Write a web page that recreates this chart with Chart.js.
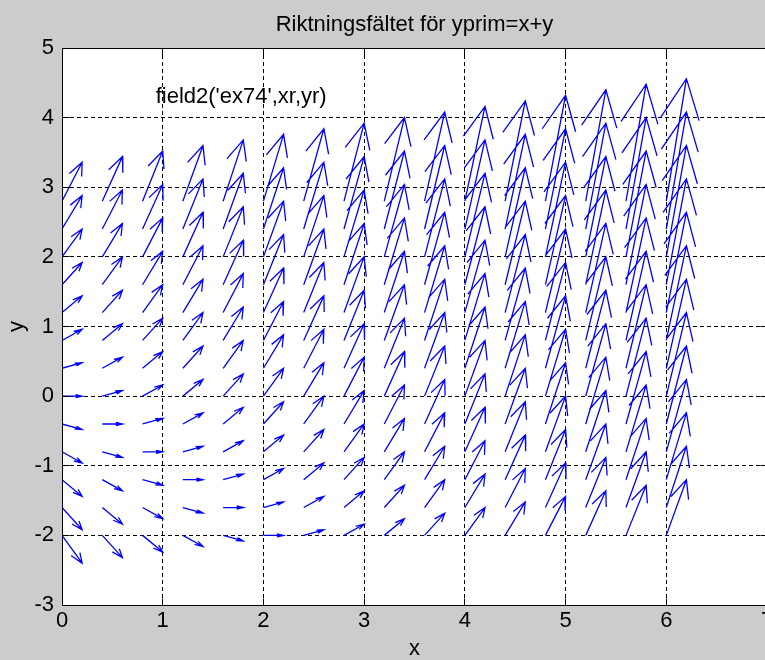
<!DOCTYPE html>
<html>
<head>
<meta charset="utf-8">
<title>Riktningsfältet för yprim=x+y</title>
<script src="https://cdn.jsdelivr.net/npm/chart.js@4.4.1/dist/chart.umd.min.js"></script>
<style>
  html, body { margin: 0; padding: 0; overflow: hidden; background: #cccccc; }
  canvas { display: block; }
</style>
</head>
<body>
<canvas id="fieldChart" width="829" height="660" style="width:829px;height:660px"></canvas>
<script>
// grid points where the arrows start
const xGrid = [0, 0.4, 0.8, 1.2, 1.6, 2, 2.4, 2.8, 3.2, 3.6, 4, 4.4, 4.8, 5.2, 5.6, 6];
const yGrid = [-2, -1.6, -1.2, -0.8, -0.4, 0, 0.4, 0.8, 1.2, 1.6, 2, 2.4, 2.8];

// slope y' at each grid point, one row per yGrid value
const slopes = [
  [-2, -1.6, -1.2, -0.8, -0.4, 0, 0.4, 0.8, 1.2, 1.6, 2, 2.4, 2.8, 3.2, 3.6, 4],
  [-1.6, -1.2, -0.8, -0.4, 0, 0.4, 0.8, 1.2, 1.6, 2, 2.4, 2.8, 3.2, 3.6, 4, 4.4],
  [-1.2, -0.8, -0.4, 0, 0.4, 0.8, 1.2, 1.6, 2, 2.4, 2.8, 3.2, 3.6, 4, 4.4, 4.8],
  [-0.8, -0.4, 0, 0.4, 0.8, 1.2, 1.6, 2, 2.4, 2.8, 3.2, 3.6, 4, 4.4, 4.8, 5.2],
  [-0.4, 0, 0.4, 0.8, 1.2, 1.6, 2, 2.4, 2.8, 3.2, 3.6, 4, 4.4, 4.8, 5.2, 5.6],
  [0, 0.4, 0.8, 1.2, 1.6, 2, 2.4, 2.8, 3.2, 3.6, 4, 4.4, 4.8, 5.2, 5.6, 6],
  [0.4, 0.8, 1.2, 1.6, 2, 2.4, 2.8, 3.2, 3.6, 4, 4.4, 4.8, 5.2, 5.6, 6, 6.4],
  [0.8, 1.2, 1.6, 2, 2.4, 2.8, 3.2, 3.6, 4, 4.4, 4.8, 5.2, 5.6, 6, 6.4, 6.8],
  [1.2, 1.6, 2, 2.4, 2.8, 3.2, 3.6, 4, 4.4, 4.8, 5.2, 5.6, 6, 6.4, 6.8, 7.2],
  [1.6, 2, 2.4, 2.8, 3.2, 3.6, 4, 4.4, 4.8, 5.2, 5.6, 6, 6.4, 6.8, 7.2, 7.6],
  [2, 2.4, 2.8, 3.2, 3.6, 4, 4.4, 4.8, 5.2, 5.6, 6, 6.4, 6.8, 7.2, 7.6, 8],
  [2.4, 2.8, 3.2, 3.6, 4, 4.4, 4.8, 5.2, 5.6, 6, 6.4, 6.8, 7.2, 7.6, 8, 8.4],
  [2.8, 3.2, 3.6, 4, 4.4, 4.8, 5.2, 5.6, 6, 6.4, 6.8, 7.2, 7.6, 8, 8.4, 8.8],
];

const xTicks = [0, 1, 2, 3, 4, 5, 6, 7];
const yTicks = [-3, -2, -1, 0, 1, 2, 3, 4, 5];

const titleText = 'Riktningsfältet för yprim=x+y';
const noteText = "field2('ex74',xr,yr)";
const noteAt = [0.93, 4.3];

// arrow drawing (matlab quiver style head)
const arrowRun = 0.2;
const headLen = 0.33;
const headWidth = 0.33;
const fontFamily = "'Liberation Sans', Arial, sans-serif";
const fontSize = 22;

function buildArrows() {
  const pts = [];
  yGrid.forEach((y0, i) => {
    xGrid.forEach((x0, j) => {
      const u = arrowRun;
      const v = arrowRun * slopes[i][j];
      const tx = x0 + u;
      const ty = y0 + v;
      pts.push(
        { x: x0, y: y0 },
        { x: tx, y: ty },
        { x: tx, y: null },
        { x: tx - headLen * (u + headWidth * v), y: ty - headLen * (v - headWidth * u) },
        { x: tx, y: ty },
        { x: tx - headLen * (u - headWidth * v), y: ty - headLen * (v + headWidth * u) },
        { x: tx, y: null }
      );
    });
  });
  return pts;
}

const align = (p) => Math.round(p - 0.5) + 0.5;

const axesBox = {
  id: 'axesBox',
  beforeDraw(chart) {
    const { ctx, chartArea: a } = chart;
    ctx.save();
    ctx.fillStyle = '#ffffff';
    ctx.fillRect(a.left, a.top, a.right - a.left, a.bottom - a.top);
    ctx.restore();
  },
  afterDraw(chart) {
    const { ctx, chartArea: a, scales } = chart;
    const tick = 7;
    const l = align(a.left), r = align(a.right), t = align(a.top), b = align(a.bottom);
    ctx.save();
    ctx.strokeStyle = '#000000';
    ctx.lineWidth = 1;
    ctx.beginPath();
    ctx.moveTo(l, t); ctx.lineTo(r, t); ctx.lineTo(r, b); ctx.lineTo(l, b); ctx.closePath();
    xTicks.forEach((v) => {
      const px = align(scales.x.getPixelForValue(v));
      ctx.moveTo(px, b); ctx.lineTo(px, b - tick);
      ctx.moveTo(px, t); ctx.lineTo(px, t + tick);
    });
    yTicks.forEach((v) => {
      const py = align(scales.y.getPixelForValue(v));
      ctx.moveTo(l, py); ctx.lineTo(l + tick, py);
      ctx.moveTo(r, py); ctx.lineTo(r - tick, py);
    });
    ctx.stroke();

    ctx.fillStyle = '#000000';
    ctx.font = fontSize + 'px ' + fontFamily;
    ctx.textBaseline = 'middle';
    ctx.textAlign = 'left';
    ctx.fillText(noteText, scales.x.getPixelForValue(noteAt[0]), scales.y.getPixelForValue(noteAt[1]));
    ctx.restore();
  },
};

Chart.defaults.font.family = fontFamily;
Chart.defaults.font.size = fontSize;
Chart.defaults.color = '#000000';

new Chart(document.getElementById('fieldChart'), {
  type: 'scatter',
  data: {
    datasets: [{
      data: buildArrows(),
      showLine: true,
      spanGaps: false,
      borderColor: '#0000ff',
      borderWidth: 1.3,
      pointRadius: 0,
      pointHoverRadius: 0,
      tension: 0,
      xAxisID: 'x',
      yAxisID: 'y',
    }],
  },
  options: {
    responsive: false,
    animation: false,
    events: [],
    layout: { padding: 0 },
    plugins: {
      legend: { display: false },
      tooltip: { enabled: false },
      title: {
        display: true,
        text: titleText,
        color: '#000000',
        font: { size: fontSize, weight: 'normal', lineHeight: 1.2 },
        padding: { top: 12, bottom: 9.6 },
      },
    },
    scales: {
      x: {
        type: 'linear',
        position: 'bottom',
        min: 0,
        max: 7,
        z: 1,
        afterBuildTicks: (s) => { s.ticks = xTicks.map((v) => ({ value: v })); },
        afterFit: (s) => { s.height = 55; },
        ticks: { color: '#000000', padding: 3, maxRotation: 0, autoSkip: false },
        grid: { color: '#000000', lineWidth: 1, drawTicks: false },
        border: { display: true, color: '#000000', dash: [4, 3] },
        title: { display: true, text: 'x', color: '#000000', font: { size: fontSize, lineHeight: 1 }, padding: 0 },
      },
      y: {
        type: 'linear',
        position: 'left',
        min: -3,
        max: 5,
        z: 1,
        afterBuildTicks: (s) => { s.ticks = yTicks.map((v) => ({ value: v })); },
        afterFit: (s) => { s.width = 62; },
        ticks: { color: '#000000', padding: 8, autoSkip: false },
        grid: { color: '#000000', lineWidth: 1, drawTicks: false },
        border: { display: true, color: '#000000', dash: [4, 3] },
        title: { display: true, text: 'y', color: '#000000', font: { size: fontSize, lineHeight: 1 }, padding: { top: 6, bottom: 0 } },
      },
      y2: {
        type: 'linear',
        position: 'right',
        min: -3,
        max: 5,
        afterFit: (s) => { s.width = 62; },
        ticks: { display: false },
        grid: { display: false },
        border: { display: false },
      },
    },
  },
  plugins: [axesBox],
});
</script>
</body>
</html>
